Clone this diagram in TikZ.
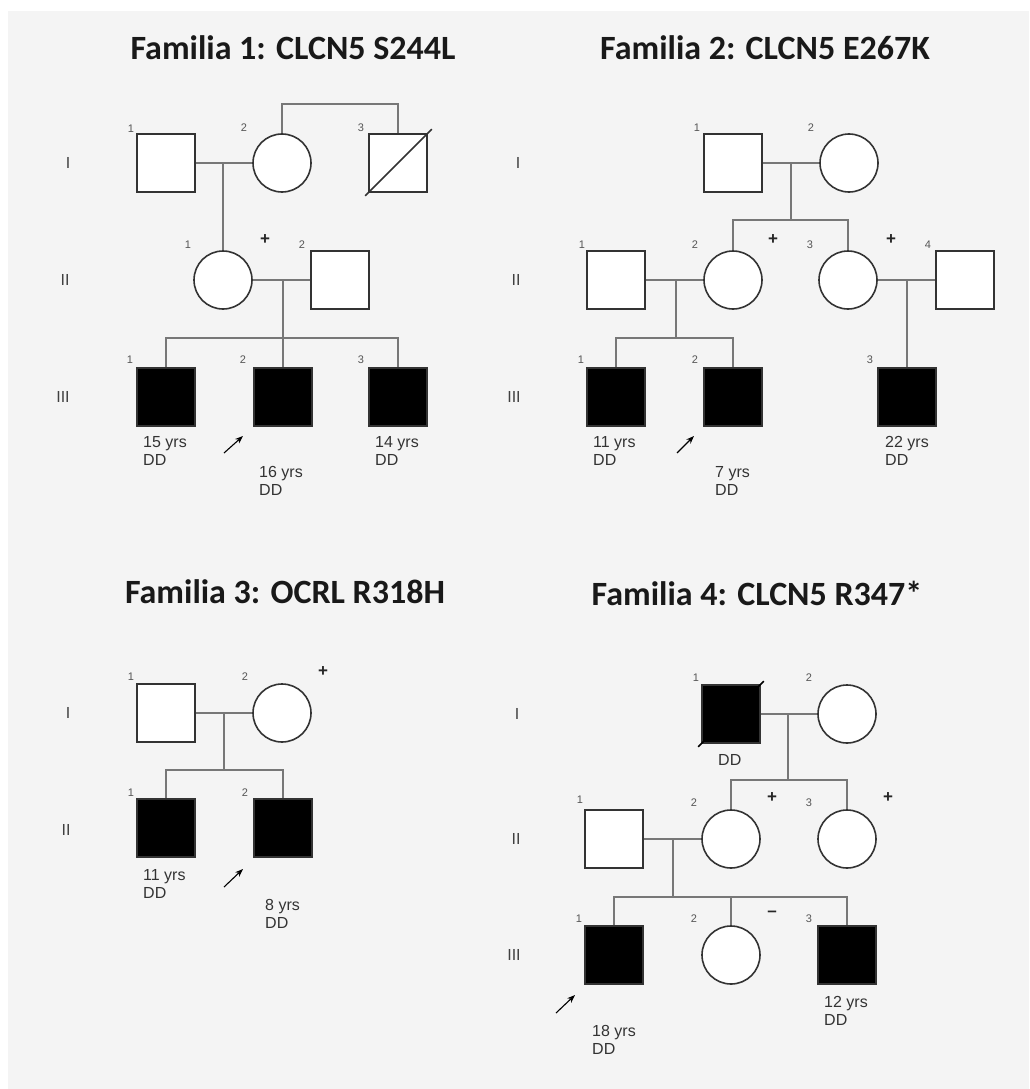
\documentclass[tikz,border=0pt]{standalone}
\usepackage{fontspec}
\setmainfont{Liberation Sans}
\newfontfamily\titlefont{Carlito}
\usetikzlibrary{calc,arrows.meta}
\definecolor{bgpanel}{HTML}{F4F4F4}
\definecolor{shapecol}{HTML}{333333}
\definecolor{relcol}{HTML}{777777}
\definecolor{numcol}{HTML}{555555}
\tikzset{
  indiv/.style={draw=shapecol, line width=1.6pt, fill=white, minimum size=58pt, inner sep=0pt},
  male/.style={indiv, rectangle},
  female/.style={indiv, circle},
  affected/.style={fill=black},
  rel/.style={draw=relcol, line width=1.4pt},
  slashline/.style={draw=shapecol, line width=1.6pt},
  titletext/.style={font=\titlefont\bfseries\fontsize{34}{40}\selectfont, text=black!90},
  gen/.style={font=\fontsize{16}{18}\selectfont, text=black!75},
  num/.style={font=\fontsize{11}{12}\selectfont, text=numcol},
  sign/.style={font=\bfseries\fontsize{17}{18}\selectfont, text=black!85},
  info/.style={font=\fontsize{16}{18}\selectfont, text=black!80, align=left, anchor=north west, inner sep=0pt},
  proband/.style={draw=black, line width=1.1pt, -{Stealth[length=8pt,width=6pt]}}
}
\begin{document}
\begin{tikzpicture}[x=1pt,y=-1pt]
\useasboundingbox (0,0) rectangle (1029,1089);
\fill[bgpanel] (8,11) rectangle (1029,1089);

% ================= Family 1 =================
\node[titletext] (t1) at (293,48) {Familia 1: CLCN5 S244L};
\node[gen] (g1a) at (68,163) {I};
\node[gen] (g1b) at (65,280) {II};
\node[gen] (g1c) at (63,397) {III};

\node[male] (f1a) at (166,163) {};
\node[female] (f1b) at (282,163) {};
\node[male] (f1c) at (398,163) {};
\draw[slashline] ($(f1c.south west)+(-3,3)$) -- ($(f1c.north east)+(4,-4)$);
\node[female] (f1d) at (223,280) {};
\node[male] (f1e) at (340,280) {};
\node[male,affected] (f1g) at (166,397) {};
\node[male,affected] (f1h) at (283,397) {};
\node[male,affected] (f1k) at (398,397) {};

\draw[rel] (f1b.north) -- ++(0,-29) -| (f1c.north);
\coordinate (f1m1) at (223,163);
\draw[rel] (f1a.east) -- (f1b.west);
\draw[rel] (f1m1) -- (f1d.north);
\coordinate (f1m2) at (283,280);
\coordinate (f1s2) at (283,338);
\draw[rel] (f1d.east) -- (f1e.west);
\draw[rel] (f1m2) -- (f1s2);
\draw[rel] (f1g.north) |- (f1s2) -| (f1k.north);
\draw[rel] (f1s2) -- (f1h.north);

\node[num] (n1a) at (131,129) {1};
\node[num] (n1b) at (244,128) {2};
\node[num] (n1c) at (361,128) {3};
\node[num] (n1d) at (188,245) {1};
\node[sign] (p1d) at (265,240) {+};
\node[num] (n1e) at (302,245) {2};
\node[num] (n1g) at (130,360) {1};
\node[num] (n1h) at (243,360) {2};
\node[num] (n1k) at (361,360) {3};

\node[info] (i1g) at (143,436) {15 yrs\\DD};
\node[info] (i1h) at (259,466) {16 yrs\\DD};
\node[info] (i1k) at (375,436) {14 yrs\\DD};
\coordinate (a1s) at (224,453);
\coordinate (a1e) at (243,436);
\draw[proband] (a1s) -- (a1e);

% ================= Family 2 =================
\node[titletext] (t2) at (765,48) {Familia 2: CLCN5 E267K};
\node[gen] (g2a) at (518,163) {I};
\node[gen] (g2b) at (516,280) {II};
\node[gen] (g2c) at (514,397) {III};

\node[male] (f2a) at (733,163) {};
\node[female] (f2b) at (849,163) {};
\node[male] (f2c) at (616,280) {};
\node[female] (f2d) at (733,280) {};
\node[female] (f2e) at (848,280) {};
\node[male] (f2f) at (965,280) {};
\node[male,affected] (f2g) at (616,397) {};
\node[male,affected] (f2h) at (733,397) {};
\node[male,affected] (f2k) at (907,397) {};

\coordinate (f2m1) at (791,163);
\coordinate (f2s1) at (791,220);
\draw[rel] (f2a.east) -- (f2b.west);
\draw[rel] (f2m1) -- (f2s1);
\draw[rel] (f2d.north) |- (f2s1) -| (f2e.north);
\coordinate (f2m2) at (676,280);
\coordinate (f2s2) at (676,338);
\draw[rel] (f2c.east) -- (f2d.west);
\draw[rel] (f2m2) -- (f2s2);
\draw[rel] (f2g.north) |- (f2s2) -| (f2h.north);
\coordinate (f2m3) at (907,280);
\draw[rel] (f2e.east) -- (f2f.west);
\draw[rel] (f2m3) -- (f2k.north);

\node[num] (n2a) at (697,128) {1};
\node[num] (n2b) at (811,128) {2};
\node[num] (n2c) at (582,245) {1};
\node[num] (n2d) at (695,245) {2};
\node[sign] (p2d) at (773,240) {+};
\node[num] (n2e) at (810,245) {3};
\node[sign] (p2e) at (891,240) {+};
\node[num] (n2f) at (928,245) {4};
\node[num] (n2g) at (581,360) {1};
\node[num] (n2h) at (695,360) {2};
\node[num] (n2k) at (870,360) {3};

\node[info] (i2g) at (593,436) {11 yrs\\DD};
\node[info] (i2h) at (715,466) {7 yrs\\DD};
\node[info] (i2k) at (885,436) {22 yrs\\DD};
\coordinate (a2s) at (677,453);
\coordinate (a2e) at (694,436);
\draw[proband] (a2s) -- (a2e);

% ================= Family 3 =================
\node[titletext] (t3) at (285,592) {Familia 3: OCRL R318H};
\node[gen] (g3a) at (68,713) {I};
\node[gen] (g3b) at (66,830) {II};

\node[male] (f3a) at (166,713) {};
\node[female] (f3b) at (282,713) {};
\node[male,affected] (f3c) at (166,828) {};
\node[male,affected] (f3d) at (283,828) {};

\coordinate (f3m1) at (224,713);
\coordinate (f3s1) at (224,770);
\draw[rel] (f3a.east) -- (f3b.west);
\draw[rel] (f3m1) -- (f3s1);
\draw[rel] (f3c.north) |- (f3s1) -| (f3d.north);

\node[num] (n3a) at (131,677) {1};
\node[num] (n3b) at (245,677) {2};
\node[sign] (p3b) at (323,672) {+};
\node[num] (n3c) at (131,793) {1};
\node[num] (n3d) at (245,793) {2};

\node[info] (i3c) at (143,869) {11 yrs\\DD};
\node[info] (i3d) at (265,899) {8 yrs\\DD};
\coordinate (a3s) at (224,887);
\coordinate (a3e) at (243,869);
\draw[proband] (a3s) -- (a3e);

% ================= Family 4 =================
\node[titletext] (t4) at (757,593) {Familia 4: CLCN5 R347*};
\node[gen] (g4a) at (517,714) {I};
\node[gen] (g4b) at (516,839) {II};
\node[gen] (g4c) at (514,955) {III};

\node[male,affected] (f4a) at (731,714) {};
\draw[slashline, draw=black] ($(f4a.south west)+(-3,3)$) -- ($(f4a.north east)+(3,-3)$);
\node[female] (f4b) at (847,714) {};
\node[male] (f4c) at (614,839) {};
\node[female] (f4d) at (731,839) {};
\node[female] (f4e) at (847,839) {};
\node[male,affected] (f4g) at (614,955) {};
\node[female] (f4h) at (731,955) {};
\node[male,affected] (f4k) at (847,955) {};

\coordinate (f4m1) at (788,714);
\coordinate (f4s1) at (788,780);
\draw[rel] (f4a.east) -- (f4b.west);
\draw[rel] (f4m1) -- (f4s1);
\draw[rel] (f4d.north) |- (f4s1) -| (f4e.north);
\coordinate (f4m2) at (673,839);
\coordinate (f4s2) at (673,897);
\draw[rel] (f4c.east) -- (f4d.west);
\draw[rel] (f4m2) -- (f4s2);
\draw[rel] (f4g.north) |- (f4s2) -| (f4k.north);
\draw[rel] (f4h.north) -- (f4h.north |- f4s2);

\node[num] (n4a) at (696,678) {1};
\node[num] (n4b) at (809,678) {2};
\node[info] (i4a) at (718,754) {DD};
\node[num] (n4c) at (580,800) {1};
\node[num] (n4d) at (694,803) {2};
\node[sign] (p4d) at (772,798) {+};
\node[num] (n4e) at (809,803) {3};
\node[sign] (p4e) at (888,798) {+};
\node[num] (n4g) at (579,919) {1};
\node[num] (n4h) at (694,919) {2};
\node[sign] (m4h) at (772,914) {\textendash};
\node[num] (n4k) at (809,919) {3};

\node[info] (i4g) at (592,1025) {18 yrs\\DD};
\node[info] (i4k) at (824,996) {12 yrs\\DD};
\coordinate (a4s) at (556,1013);
\coordinate (a4e) at (575,995);
\draw[proband] (a4s) -- (a4e);
\end{tikzpicture}
\end{document}
